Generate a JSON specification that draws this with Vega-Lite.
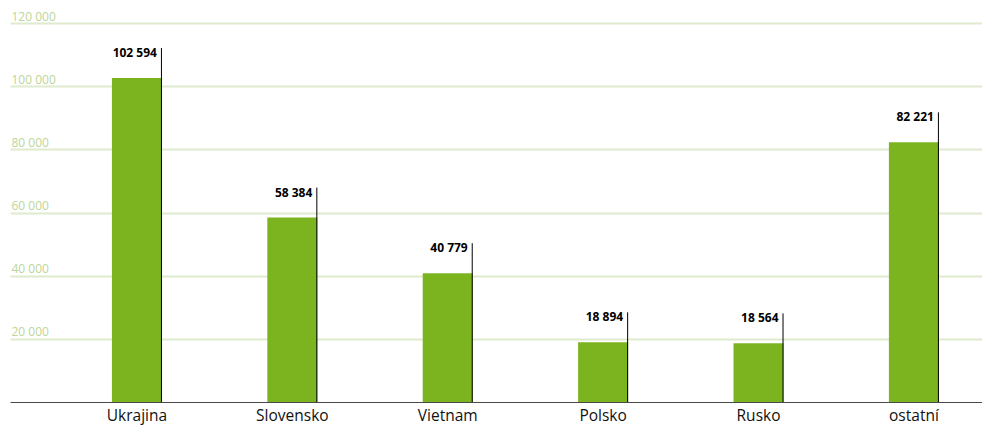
{
  "$schema": "https://vega.github.io/schema/vega-lite/v6.json",
  "autosize": "none",
  "width": 972,
  "height": 379,
  "padding": {"left": 10, "top": 23, "right": 0, "bottom": 28},
  "background": "white",
  "config": {
    "view": {"stroke": null},
    "locale": {"number": {"decimal": ",", "thousands": " ", "grouping": [3], "currency": ["", ""]}},
    "font": "Open Sans"
  },
  "data": {
    "values": [
      {"zeme": "Ukrajina", "pocet": 102594},
      {"zeme": "Slovensko", "pocet": 58384},
      {"zeme": "Vietnam", "pocet": 40779},
      {"zeme": "Polsko", "pocet": 18894},
      {"zeme": "Rusko", "pocet": 18564},
      {"zeme": "ostatní", "pocet": 82221}
    ]
  },
  "encoding": {
    "x": {
      "field": "zeme",
      "type": "nominal",
      "sort": null,
      "scale": {"paddingInner": 0.678, "paddingOuter": 0.4665, "align": 0.703},
      "axis": {
        "title": null,
        "labelAngle": 0,
        "ticks": false,
        "domainColor": "#4a4a4a",
        "domainWidth": 1,
        "labelFont": "Open Sans",
        "labelFontSize": 15.5,
        "labelColor": "#111111",
        "labelPadding": 6,
        "grid": false
      }
    },
    "y": {
      "field": "pocet",
      "type": "quantitative",
      "scale": {"domain": [0, 120000], "nice": false},
      "axis": {
        "title": null,
        "values": [20000, 40000, 60000, 80000, 100000, 120000],
        "labelExpr": "format(datum.value, ',')",
        "domain": false,
        "ticks": false,
        "labelAlign": "left",
        "labelBaseline": "alphabetic",
        "labelPadding": -1,
        "labelOffset": -3,
        "labelFont": "Open Sans",
        "labelFontSize": 12,
        "labelColor": "#bcd699",
        "gridColor": "#e0ebcd",
        "gridWidth": 2
      }
    }
  },
  "layer": [
    {"mark": {"type": "bar", "color": "#7cb41f"}},
    {
      "mark": {"type": "rule", "color": "#000000", "strokeWidth": 1, "xOffset": 24.5, "yOffset": -30},
      "encoding": {"y2": {"datum": 0}}
    },
    {
      "mark": {"type": "text", "align": "right", "baseline": "alphabetic", "xOffset": 20, "yOffset": -21, "font": "Open Sans", "fontWeight": "bold", "fontSize": 12, "color": "#000000"},
      "encoding": {"text": {"field": "pocet", "type": "quantitative", "format": ","}}
    }
  ]
}
